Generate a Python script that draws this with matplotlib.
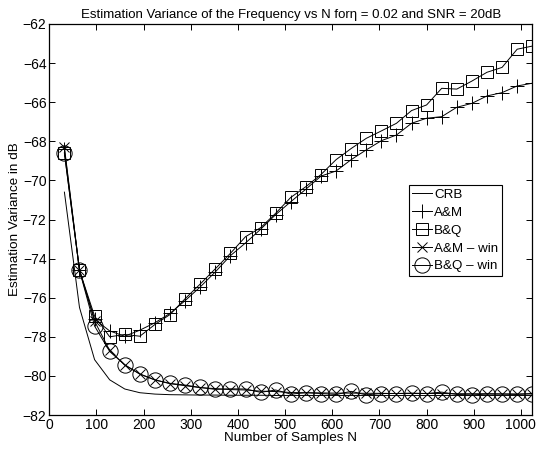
import matplotlib
matplotlib.use('Agg')
import matplotlib.pyplot as plt

plt.rcParams['font.family'] = ['Liberation Sans', 'DejaVu Sans']

# Number of samples (markers every 32)
n_samples = [32 * k for k in range(1, 33)]

crb = [-70.6, -76.5, -79.17, -80.2, -80.67, -80.86, -80.93, -80.96,
       -80.97, -80.98, -80.98, -80.99, -80.99, -80.99, -81.0, -81.0,
       -81.0, -81.0, -81.0, -81.0, -81.0, -81.0, -81.0, -81.0,
       -81.0, -81.0, -81.0, -81.0, -81.0, -81.0, -81.0, -81.0]

am = [-68.4, -74.6, -77.1, -77.7, -77.97, -77.66, -77.28, -76.8,
      -76.15, -75.45, -74.68, -73.85, -73.2, -72.5, -71.75, -71.09,
      -70.45, -69.78, -69.52, -68.94, -68.44, -67.97, -67.68, -67.08,
      -66.82, -66.74, -66.26, -66.06, -65.68, -65.51, -65.17, -65.03]

bq = [-68.6, -74.6, -76.94, -78.0, -77.88, -77.97, -77.37, -76.86,
      -76.05, -75.3, -74.52, -73.73, -72.88, -72.42, -71.68, -70.87,
      -70.32, -69.7, -68.94, -68.37, -67.85, -67.47, -67.08, -66.43,
      -66.14, -65.29, -65.33, -64.92, -64.47, -64.22, -63.29, -63.13]

am_win = [-68.3, -74.6, -77.2, -78.7, -79.45, -79.9, -80.2, -80.4,
          -80.5, -80.6, -80.65, -80.7, -80.72, -80.78, -80.8, -80.85,
          -80.86, -80.87, -80.88, -80.88, -80.89, -80.89, -80.9, -80.9,
          -80.9, -80.9, -80.91, -80.91, -80.91, -80.92, -80.92, -80.92]

bq_win = [-68.6, -74.6, -77.45, -78.75, -79.43, -79.91, -80.21, -80.38,
          -80.47, -80.59, -80.69, -80.66, -80.67, -80.84, -80.72, -80.93,
          -80.86, -80.9, -80.95, -80.79, -80.97, -80.9, -80.9, -80.88,
          -80.9, -80.83, -80.95, -80.97, -80.93, -80.93, -80.95, -80.9]

fig = plt.figure(figsize=(5.36, 4.51), dpi=100)
ax = fig.add_axes([0.092, 0.0798, 0.901, 0.867])

lw = 0.7
ax.plot(n_samples, crb, color='k', lw=lw, label='CRB')
ax.plot(n_samples, am, color='k', lw=lw, marker='+', ms=10, mew=0.7, label='A&M')
ax.plot(n_samples, bq, color='k', lw=lw, marker='s', ms=9, mew=0.7,
        mfc='none', label='B&Q')
ax.plot(n_samples, am_win, color='k', lw=lw, marker='x', ms=7, mew=0.7,
        label='A&M – win')
ax.plot(n_samples, bq_win, color='k', lw=lw, marker='o', ms=11, mew=0.7,
        mfc='none', label='B&Q – win')

ax.set_xlim(0, 1024)
ax.set_ylim(-82, -62)
ax.set_xticks(range(0, 1001, 100))
ax.set_yticks(range(-82, -61, 2))
ax.tick_params(direction='in', top=True, right=True, labelsize=10, length=4,
               width=0.7, pad=2)
for s in ax.spines.values():
    s.set_linewidth(0.9)

ax.set_title('Estimation Variance of the Frequency vs N for\u03b7 = 0.02 and SNR = 20dB',
             fontsize=9.5, pad=4)
ax.set_xlabel('Number of Samples N', fontsize=9.7, labelpad=0.5)
ax.set_ylabel('Estimation Variance in dB', fontsize=9.7, labelpad=1)

leg = ax.legend(loc='upper right', bbox_to_anchor=(0.937, 0.588), fontsize=9.6,
                fancybox=False, edgecolor='k', framealpha=1, handlelength=1.5,
                handletextpad=0.15, labelspacing=0.42, borderpad=0.25,
                borderaxespad=0)
leg.get_frame().set_linewidth(0.8)

plt.savefig('out.png', dpi=100)
